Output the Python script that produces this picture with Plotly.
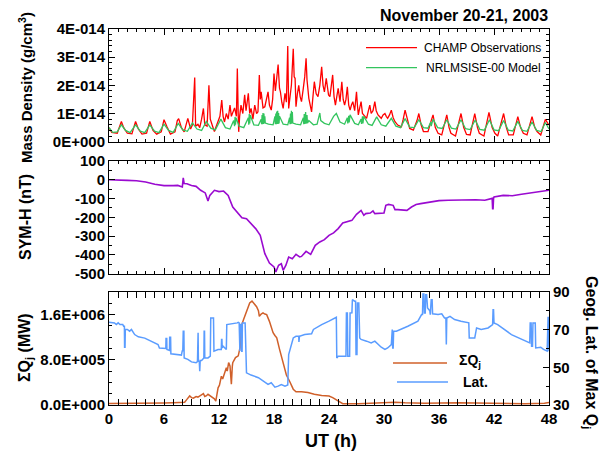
import numpy as np
import plotly.graph_objects as go

FONT = "Liberation Sans, Arial, Helvetica, sans-serif"

# ---------------- data ----------------
# CHAMP observed mass density, (UT hour, value in 1E-14 g/cm^3)
CHAMP = [(0, 0.5), (0.3, 0.33), (0.9, 0.3), (1.2, 0.55), (1.35, 0.72), (1.6, 0.5), (2.0, 0.3), (2.5, 0.28),
         (2.75, 0.55), (2.9, 0.72), (3.2, 0.45), (3.6, 0.27), (4.1, 0.3), (4.3, 0.6), (4.45, 0.72), (4.8, 0.4),
         (5.2, 0.27), (5.7, 0.35), (5.9, 0.7), (6.0, 0.78), (6.3, 0.55), (6.7, 0.27), (7.2, 0.35), (7.45, 0.75),
         (7.6, 0.82), (7.9, 0.5), (8.2, 0.35), (8.6, 0.83), (8.9, 0.45), (9.1, 0.6), (9.35, 2.28), (9.45, 0.55),
         (9.7, 0.62), (9.9, 0.5), (10.1, 0.8), (10.3, 1.18), (10.45, 0.6), (10.7, 0.55), (10.9, 2.0), (11.05, 0.8),
         (11.3, 0.55), (11.5, 0.36), (11.7, 0.55), (11.9, 0.7), (12.1, 0.9), (12.3, 1.48), (12.45, 0.9), (12.6, 0.7),
         (12.8, 1.0), (13.0, 0.8), (13.2, 1.3), (13.35, 0.9), (13.5, 1.06), (13.7, 1.2), (13.9, 0.9), (14.0, 2.6),
         (14.1, 0.9), (14.15, 0.35), (14.25, 0.9), (14.4, 1.3), (14.6, 1.0), (14.8, 1.66), (14.95, 1.1), (15.2, 1.72),
         (15.35, 1.0), (15.5, 1.18), (15.7, 0.8), (15.9, 1.3), (16.1, 1.0), (16.25, 1.06), (16.4, 2.37), (16.5, 1.5),
         (16.6, 1.77), (16.8, 1.2), (17.0, 1.24), (17.2, 1.6), (17.35, 1.77), (17.5, 1.3), (17.7, 1.12), (17.85, 1.5),
         (18.0, 2.42), (18.15, 1.8), (18.3, 2.25), (18.45, 2.74), (18.6, 1.9), (18.7, 1.77), (18.85, 1.4), (19.0, 1.18),
         (19.2, 1.72), (19.35, 1.4), (19.5, 3.4), (19.6, 1.18), (19.75, 1.6), (19.9, 2.01), (20.1, 3.3), (20.2, 2.3),
         (20.3, 2.25), (20.4, 1.24), (20.55, 1.7), (20.7, 2.0), (20.85, 1.6), (21.0, 1.42), (21.2, 1.9), (21.35, 2.3),
         (21.5, 2.96), (21.6, 2.2), (21.8, 1.54), (21.95, 1.3), (22.1, 1.06), (22.25, 1.6), (22.4, 2.13), (22.6, 1.7),
         (22.8, 1.6), (23.0, 2.0), (23.2, 2.66), (23.35, 2.0), (23.5, 1.77), (23.7, 2.25), (23.95, 1.66), (24.1, 1.6),
         (24.4, 2.37), (24.55, 1.6), (24.7, 1.3), (24.85, 1.6), (25.0, 1.89), (25.2, 1.42), (25.4, 2.13), (25.55, 1.5),
         (25.7, 1.3), (25.85, 1.5), (26.0, 1.95), (26.15, 1.3), (26.3, 1.12), (26.45, 1.3), (26.6, 1.42), (26.8, 1.1),
         (27.0, 1.77), (27.1, 1.3), (27.2, 0.95), (27.35, 1.2), (27.5, 1.42), (27.65, 1.0), (27.8, 0.95), (28.1, 0.83),
         (28.3, 1.1), (28.45, 1.3), (28.6, 1.0), (28.8, 1.1), (29.0, 1.42), (29.15, 1.1), (29.35, 0.95), (29.55, 0.9),
         (29.7, 0.83), (29.9, 0.95), (30.1, 1.0), (30.25, 0.9), (30.4, 0.83), (30.6, 0.95), (30.8, 1.12), (31.0, 0.85),
         (31.2, 0.71), (31.5, 0.59), (31.9, 0.53), (32.1, 0.8), (32.3, 1.12), (32.55, 0.8), (32.8, 0.47), (33.2, 0.41),
         (33.6, 0.75), (33.8, 1.0), (34.05, 0.6), (34.3, 0.36), (34.8, 0.36), (35.15, 0.75), (35.35, 0.95), (35.6, 0.5),
         (35.9, 0.3), (36.3, 0.24), (36.65, 0.7), (36.85, 0.95), (37.1, 0.5), (37.3, 0.3), (37.8, 0.2), (38.2, 0.7),
         (38.4, 1.0), (38.7, 0.5), (39.0, 0.26), (39.4, 0.24), (39.75, 0.75), (39.9, 1.0), (40.2, 0.5), (40.4, 0.3),
         (40.9, 0.2), (41.3, 0.8), (41.45, 1.04), (41.8, 0.5), (42.1, 0.3), (42.4, 0.2), (42.85, 0.75), (43.05, 1.0),
         (43.35, 0.5), (43.6, 0.24), (44.1, 0.24), (44.45, 0.7), (44.6, 0.89), (44.9, 0.5), (45.2, 0.3), (45.6, 0.24),
         (46.0, 0.7), (46.15, 0.89), (46.45, 0.5), (46.7, 0.36), (47.1, 0.24), (47.45, 0.65), (47.6, 0.79), (48.0, 0.59)]

# NRLMSISE-00 model density, (UT hour, value in 1E-14 g/cm^3)
MSIS = [(0, 0.5), (0.4, 0.33), (0.9, 0.35), (1.35, 0.6), (1.8, 0.4), (2.3, 0.32), (2.9, 0.6), (3.4, 0.38),
        (3.9, 0.32), (4.45, 0.6), (4.95, 0.38), (5.45, 0.32), (6.0, 0.62), (6.5, 0.4), (7.0, 0.33), (7.55, 0.65),
        (8.05, 0.42), (8.55, 0.37), (9.1, 0.67), (9.6, 0.45), (10.1, 0.4), (10.62, 0.72), (11.1, 0.48), (11.6, 0.42),
        (12.2, 0.8), (12.7, 0.5), (13.2, 0.45), (13.6, 0.75), (13.7, 0.55), (13.75, 0.88), (13.8, 0.6), (13.85, 0.85),
        (14.2, 0.55), (14.7, 0.5), (15.2, 0.85), (15.25, 0.6), (15.3, 0.98), (15.35, 0.65), (15.4, 0.95), (15.8, 0.6),
        (16.3, 0.58), (16.6, 0.8), (16.65, 0.62), (16.7, 0.95), (16.75, 0.62), (16.8, 1.02), (16.85, 0.63), (16.9, 1.0),
        (16.95, 0.65), (17.0, 0.9), (17.05, 0.66), (17.4, 0.62), (17.9, 0.6), (18.1, 0.9), (18.15, 0.62), (18.2, 1.0),
        (18.25, 0.62), (18.3, 1.07), (18.35, 0.63), (18.4, 1.1), (18.45, 0.63), (18.5, 1.02), (18.55, 0.65), (18.6, 0.9),
        (19.0, 0.62), (19.5, 0.6), (19.7, 0.85), (19.75, 0.62), (19.8, 1.0), (19.85, 0.63), (19.9, 1.1), (19.95, 0.65),
        (20.0, 1.05), (20.05, 0.66), (20.4, 0.62), (20.9, 0.6), (21.2, 0.85), (21.25, 0.62), (21.3, 0.98), (21.35, 0.63),
        (21.45, 1.05), (21.5, 0.64), (21.6, 0.95), (21.65, 0.66), (21.8, 0.75), (22.3, 0.6), (22.7, 0.62), (23.0, 1.02),
        (23.1, 0.75), (23.5, 0.65), (24.0, 0.6), (24.5, 0.9), (24.8, 1.0), (25.2, 0.7), (25.7, 0.62), (26.0, 0.85),
        (26.05, 0.65), (26.15, 0.92), (26.2, 0.68), (26.3, 0.95), (26.8, 0.65), (27.2, 0.6), (27.5, 0.8), (27.55, 0.63),
        (27.65, 0.9), (27.7, 0.65), (27.8, 0.9), (28.3, 0.62), (28.7, 0.58), (29.2, 0.88), (29.7, 0.6), (30.2, 0.55),
        (30.8, 0.83), (31.3, 0.55), (31.8, 0.5), (32.3, 0.82), (32.8, 0.52), (33.3, 0.5), (33.8, 0.78), (34.3, 0.5),
        (34.8, 0.48), (35.1, 0.7), (35.15, 0.55), (35.35, 0.8), (35.85, 0.5), (36.35, 0.47), (36.85, 0.78), (37.35, 0.48),
        (37.85, 0.45), (38.4, 0.78), (38.9, 0.46), (39.4, 0.43), (39.95, 0.77), (40.45, 0.44), (40.95, 0.41), (41.5, 0.78),
        (42.0, 0.42), (42.5, 0.39), (43.05, 0.75), (43.55, 0.41), (44.05, 0.38), (44.6, 0.72), (45.1, 0.4), (45.6, 0.37),
        (46.15, 0.7), (46.65, 0.4), (47.15, 0.36), (47.6, 0.68), (48.0, 0.45)]

# SYM-H index, (UT hour, nT)
SYMH = [(0, 0), (1, -3), (2, -3), (3, -5), (4, -12), (5, -24), (6, -31), (7, -31), (7.5, -30), (8.0, -38),
        (8.1, 10), (8.2, -20), (8.5, -21), (9, -30), (9.5, -35), (10, -56), (10.5, -70), (10.8, -113), (11, -83),
        (11.5, -56), (12, -63), (12.5, -60), (13, -83), (13.5, -145), (14, -172), (14.5, -202), (15, -207),
        (15.5, -234), (16, -260), (16.5, -296), (16.8, -349), (17, -393), (17.5, -443), (18, -464), (18.2, -491),
        (18.5, -455), (18.8, -447), (19, -482), (19.3, -455), (19.6, -411), (20, -420), (20.4, -397), (20.8, -411),
        (21, -408), (21.5, -381), (22, -397), (22.5, -349), (23, -331), (23.5, -319), (24, -296), (24.5, -283),
        (25, -260), (25.5, -230), (26, -221), (26.5, -216), (27, -184), (27.5, -163), (27.8, -189), (28, -180),
        (28.5, -177), (28.8, -166), (29, -180), (29.5, -177), (30, -177), (30.2, -136), (30.5, -131), (31, -136),
        (31.2, -159), (31.5, -159), (32, -163), (32.5, -163), (33, -145), (33.5, -132), (34, -127), (35, -118),
        (36, -111), (37, -109), (38, -108), (39, -106), (40, -106), (41, -109), (41.8, -99), (41.85, -154),
        (41.9, -154), (41.95, -99), (42, -92), (43, -83), (44, -85), (45, -77), (46, -70), (47, -60), (48, -56)]

# Sum of Joule heating, (UT hour, value in 1E+05 MW)
SUMQJ = [(0, 0.25), (2, 0.25), (4, 0.3), (6, 0.35), (7, 0.4), (8, 0.45), (8.25, 0.5), (8.5, 1.0), (8.8, 1.6),
         (9.0, 1.3), (9.2, 1.2), (9.5, 1.5), (9.7, 1.4), (10.0, 1.7), (10.3, 2.0), (10.45, 1.5), (10.6, 1.6),
         (10.8, 1.9), (11.0, 1.7), (11.2, 1.5), (11.35, 1.3), (11.5, 1.1), (11.65, 0.7), (11.8, 2.0), (11.9, 3.05),
         (12.05, 3.5), (12.26, 5.1), (12.4, 4.6), (12.6, 5.7), (12.8, 6.6), (12.9, 6.0), (13.05, 7.5), (13.2, 6.9),
         (13.35, 3.7), (13.45, 6.8), (13.5, 7.5), (13.8, 8.4), (14.1, 8.7), (14.3, 10.2), (14.4, 13.8), (14.7, 15.2),
         (15.0, 16.7), (15.35, 18.05), (15.6, 18.4), (15.9, 17.9), (16.1, 17.4), (16.3, 16.7), (16.4, 15.7),
         (16.6, 16.1), (16.8, 16.3), (17.0, 16.1), (17.2, 16.0), (17.5, 14.8), (17.9, 12.8), (18.1, 12.3),
         (18.3, 11.9), (18.6, 9.9), (19.0, 7.3), (19.35, 5.3), (19.7, 4.2), (19.9, 3.5), (20.1, 2.8), (20.4, 2.35),
         (21.0, 2.35), (21.7, 2.2), (22.4, 1.9), (23.2, 1.7), (24.0, 1.6), (24.4, 1.3), (25.0, 0.7), (25.5, 0.24),
         (27.2, 0.24), (29.3, 0.4), (30.8, 0.6), (31.2, 0.5), (32.3, 0.4), (34.4, 0.3), (38.1, 0.4), (41.7, 0.3),
         (45.4, 0.24), (47.5, 0.3), (48, 0.45)]

# Geographic latitude of maximum Qj, (UT hour, degrees)
LAT = [(0, 73.9), (0.6, 73.6), (0.8, 72.7), (1.0, 73.6), (1.2, 72.7), (1.5, 72.7), (1.6, 71.8), (1.68, 71.8),
       (1.7, 60.7), (1.75, 60.7), (1.78, 70.1), (2.0, 70.1), (2.25, 69.2), (2.45, 70.1), (2.8, 67.4), (3.2, 66.2),
       (3.9, 65.5), (4.6, 63.9), (5.35, 62.1), (5.5, 60.3), (6.2, 60.0), (6.22, 65.3), (6.3, 65.3), (6.32, 59.5),
       (6.6, 59.0), (6.62, 66.0), (6.72, 66.0), (6.75, 57.2), (7.9, 56.5), (8.0, 59.0), (8.05, 58.6), (8.1, 69.2),
       (8.17, 69.2), (8.2, 55.0), (8.6, 54.2), (9.0, 52.9), (9.5, 52.4), (9.65, 53.0), (9.68, 68.3), (9.72, 68.3),
       (9.75, 53.3), (9.85, 53.0), (9.9, 48.0), (9.95, 53.6), (10.1, 53.6), (10.35, 55.0), (10.38, 69.2),
       (10.42, 69.2), (10.45, 55.0), (10.8, 55.0), (11.05, 55.9), (11.1, 76.2), (11.4, 76.2), (11.45, 58.6),
       (11.9, 59.5), (12.25, 59.5), (12.28, 64.8), (12.32, 64.8), (12.35, 60.3), (12.45, 61.2), (12.8, 59.5),
       (12.85, 72.7), (14.0, 73.6), (14.1, 73.9), (14.2, 73.6), (14.22, 58.6), (14.28, 58.6), (14.3, 72.7),
       (14.45, 72.7), (14.48, 58.6), (14.52, 58.6), (14.55, 73.6), (14.85, 73.6), (15.0, 47.1), (15.5, 45.9),
       (16.3, 44.5), (17.0, 41.8), (17.35, 40.9), (17.7, 41.8), (18.1, 39.5), (18.45, 40.0), (18.8, 40.9),
       (19.2, 40.0), (19.5, 40.6), (19.6, 56.8), (20.1, 65.6), (20.4, 66.5), (20.7, 66.5), (20.72, 63.5),
       (20.78, 66.5), (21.35, 67.4), (22.1, 67.8), (22.3, 70.1), (23.2, 72.7), (24.0, 74.5), (24.8, 76.6),
       (24.85, 55.0), (25.0, 55.9), (25.85, 55.9), (25.9, 78.9), (26.0, 78.9), (26.05, 55.9), (26.25, 55.9),
       (26.3, 78.9), (26.5, 79.0), (26.55, 85.9), (26.8, 85.1), (26.9, 85.1), (26.95, 56.8), (27.05, 56.8),
       (27.1, 84.2), (27.25, 84.2), (27.35, 65.6), (27.5, 64.8), (28.1, 63.9), (28.6, 63.0), (29.0, 63.9),
       (29.35, 62.1), (29.7, 60.7), (30.1, 59.5), (30.4, 60.3), (30.8, 62.1), (30.85, 70.1), (30.9, 70.1),
       (30.95, 60.3), (31.0, 60.3), (31.05, 69.2), (31.35, 69.2), (32.6, 71.8), (33.7, 74.5), (34.1, 78.0),
       (34.2, 78.0), (34.25, 88.9), (34.35, 88.9), (34.4, 78.9), (34.5, 78.9), (34.55, 88.6), (34.65, 88.6),
       (34.75, 81.5), (35.0, 80.0), (35.05, 78.0), (35.15, 85.9), (35.25, 85.9), (35.3, 78.4), (35.9, 78.0),
       (36.3, 78.4), (36.6, 76.2), (36.75, 76.2), (36.8, 62.1), (36.85, 76.2), (37.2, 77.1), (37.7, 75.4),
       (38.4, 74.5), (39.1, 73.6), (39.25, 73.6), (39.3, 65.6), (39.9, 65.6), (40.1, 70.9), (40.6, 70.1),
       (41.35, 70.9), (41.85, 72.7), (41.9, 80.6), (41.95, 80.6), (42.0, 73.6), (42.4, 72.7), (43.9, 67.4),
       (45.4, 63.9), (45.9, 63.0), (45.95, 73.6), (46.05, 73.6), (46.1, 61.2), (46.2, 61.2), (46.25, 73.6),
       (46.5, 73.6), (46.55, 60.3), (47.1, 60.7), (47.4, 59.5), (47.8, 58.6), (47.9, 76.5), (47.95, 76.5),
       (48.0, 58.6)]

X_TICKS = [0, 6, 12, 18, 24, 30, 36, 42, 48]
DENS_TICKS = [0, 1e-14, 2e-14, 3e-14, 4e-14]
DENS_LABELS = ["0E+000", "1E-014", "2E-014", "3E-014", "4E-014"]
SYMH_TICKS = [100, 0, -100, -200, -300, -400, -500]
QJ_TICKS = [0, 8e5, 1.6e6]
QJ_LABELS = ["0.0E+000", "8.0E+005", "1.6E+006"]
LAT_TICKS = [30, 50, 70, 90]


def unzip(pairs, scale=1.0):
    t = [p[0] for p in pairs]
    v = [p[1] * scale for p in pairs]
    return t, v


RED = "#FF0000"
GREEN = "#33C45E"
PURPLE = "#9A0AD0"
ORANGE = "#D0602A"
BLUE = "#5A9CFF"

fig = go.Figure()
t, v = unzip(CHAMP, 1e-14)
fig.add_trace(go.Scatter(x=t, y=v, mode="lines", line=dict(color=RED, width=1.3), xaxis="x", yaxis="y"))
t, v = unzip(MSIS, 1e-14)
fig.add_trace(go.Scatter(x=t, y=v, mode="lines", line=dict(color=GREEN, width=1.3), xaxis="x", yaxis="y"))
t, v = unzip(SYMH)
fig.add_trace(go.Scatter(x=t, y=v, mode="lines", line=dict(color=PURPLE, width=1.6), xaxis="x2", yaxis="y2"))
t, v = unzip(SUMQJ, 1e5)
fig.add_trace(go.Scatter(x=t, y=v, mode="lines", line=dict(color=ORANGE, width=1.5), xaxis="x3", yaxis="y3"))
t, v = unzip(LAT)
fig.add_trace(go.Scatter(x=t, y=v, mode="lines", line=dict(color=BLUE, width=1.5), xaxis="x3", yaxis="y4"))

# ---------------- layout ----------------
# the page adds an 8 px body margin; the figure is sized so that, with it,
# the plot areas land where they sit in the 613x460 reference
OFF = 8
W, H = 613 - OFF, 460 - OFF
L, R, T, B = 109 - OFF, 64, 29 - OFF, 55
PW, PH = W - L - R, H - T - B


def px(xr):  # reference x pixel -> paper
    return (xr - OFF - L) / PW


def py(yr):  # reference y pixel -> paper
    return (H - B - (yr - OFF)) / PH


tickfont = dict(family=FONT, size=15, color="black", weight="bold")
minor_common = dict(ticks="inside", ticklen=3, tickwidth=1, tickcolor="black")


def xaxis(anchor, labels):
    return dict(anchor=anchor, domain=[0, 1], range=[0, 48], tickmode="array", tickvals=X_TICKS,
                ticktext=[str(x) for x in X_TICKS], showticklabels=labels, ticks="inside", ticklen=6,
                tickwidth=1, tickcolor="black", minor=dict(dtick=1, tick0=0, **minor_common),
                showline=True, linecolor="black", linewidth=1, mirror="allticks", showgrid=False,
                zeroline=False, tickfont=tickfont)


def yaxis(domain, rng, vals, texts, minor_dtick, mirror="allticks", **kw):
    d = dict(domain=domain, range=rng, tickmode="array", tickvals=vals, ticktext=texts, ticks="inside",
             ticklen=6, tickwidth=1, tickcolor="black",
             minor=dict(tickmode="linear", dtick=minor_dtick, tick0=rng[0], **minor_common),
             showline=True, linecolor="black", linewidth=1, mirror=mirror, showgrid=False, zeroline=False,
             tickfont=tickfont)
    d.update(kw)
    return d


top_dom = [py(141.7), 1.0]
mid_dom = [py(273.7), py(161)]
bot_dom = [0.0, py(292)]

fig.update_layout(
    width=W, height=H, margin=dict(l=L, r=R, t=T, b=B, pad=0),
    paper_bgcolor="white", plot_bgcolor="white", showlegend=False,
    font=dict(family=FONT, color="black"),
    xaxis=xaxis("y", False),
    xaxis2=xaxis("y2", False),
    xaxis3=xaxis("y3", True),
    yaxis=yaxis(top_dom, [0, 4e-14], DENS_TICKS, DENS_LABELS, 2e-15, anchor="x"),
    yaxis2=yaxis(mid_dom, [-500, 100], SYMH_TICKS, [str(v) for v in SYMH_TICKS], 50, anchor="x2"),
    yaxis3=yaxis(bot_dom, [0, 2e6], QJ_TICKS, QJ_LABELS, 2e5, mirror=False, anchor="x3"),
    yaxis4=yaxis(bot_dom, [30, 90], LAT_TICKS, [str(v) for v in LAT_TICKS], 10, mirror=False,
                 anchor="x3", overlaying="y3", side="right"),
)

ann = []
bold16 = dict(family=FONT, size=16, color="black", weight="bold")
ann.append(dict(text="November 20-21, 2003", x=px(550), y=py(15), xanchor="right", yanchor="middle", font=bold16))
ann.append(dict(text="Mass Density (g/cm<sup>3</sup>)", x=px(25), y=py(88), textangle=-90,
                font=dict(family=FONT, size=15, color="black", weight="bold")))
ann.append(dict(text="SYM-H (nT)", x=px(25), y=py(217), textangle=-90, font=bold16))
ann.append(dict(text="ΣQ<sub>j</sub> (MW)", x=px(25), y=py(348), textangle=-90, font=bold16))
ann.append(dict(text="Geog. Lat. of Max Q<sub>j</sub>", x=px(591), y=py(352), textangle=90, font=bold16))
ann.append(dict(text="UT (h)", x=px(331), y=py(441), font=dict(family=FONT, size=18, color="black", weight="bold")))

# legends
reg = dict(family=FONT, size=12, color="black")
ann.append(dict(text="CHAMP Observations", x=px(422), y=py(47.7), xanchor="left", font=reg))
ann.append(dict(text="NRLMSISE-00 Model", x=px(424), y=py(67.7), xanchor="left", font=reg))
ann.append(dict(text="ΣQ<sub>j</sub>", x=px(457), y=py(361), xanchor="left",
                font=dict(family=FONT, size=14, color="black", weight="bold")))
ann.append(dict(text="Lat.", x=px(461), y=py(382), xanchor="left",
                font=dict(family=FONT, size=14, color="black", weight="bold")))
for a in ann:
    a.update(xref="paper", yref="paper", showarrow=False)
    a.setdefault("xanchor", "center")
    a.setdefault("yanchor", "middle")
fig.update_layout(annotations=ann)

shapes = [
    dict(x0=px(366), x1=px(417), y0=py(47.7), y1=py(47.7), line=dict(color=RED, width=1.3)),
    dict(x0=px(366), x1=px(417), y0=py(67.7), y1=py(67.7), line=dict(color=GREEN, width=1.3)),
    dict(x0=px(393), x1=px(447), y0=py(363), y1=py(363), line=dict(color=ORANGE, width=1.5)),
    dict(x0=px(397), x1=px(448), y0=py(382), y1=py(382), line=dict(color=BLUE, width=1.5)),
]
for s in shapes:
    s.update(type="line", xref="paper", yref="paper")
fig.update_layout(shapes=shapes)

fig.write_html("out.html")
